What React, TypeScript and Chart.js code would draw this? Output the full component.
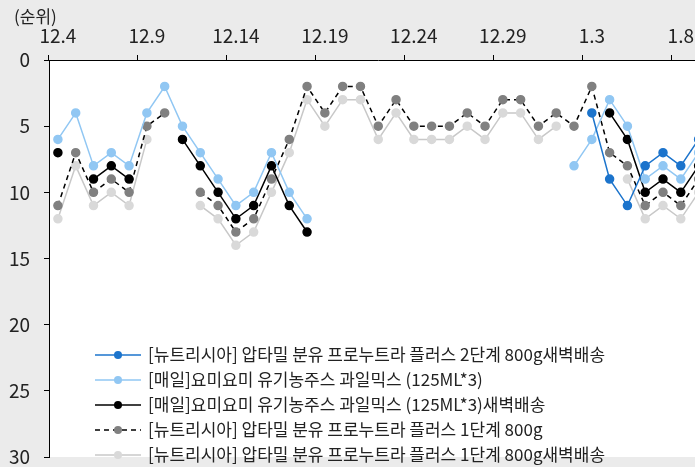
import React, { useEffect, useRef } from 'react';
import { Chart, registerables } from 'chart.js';

Chart.register(...registerables);

const categories = [
  '12.4', '12.5', '12.6', '12.7', '12.8', '12.9', '12.10', '12.11', '12.12', '12.13',
  '12.14', '12.15', '12.16', '12.17', '12.18', '12.19', '12.20', '12.21', '12.22', '12.23',
  '12.24', '12.25', '12.26', '12.27', '12.28', '12.29', '12.30', '12.31', '1.1', '1.2',
  '1.3', '1.4', '1.5', '1.6', '1.7', '1.8', '1.9',
];

const seriesNames = [
  '[뉴트리시아] 압타밀 분유 프로누트라 플러스 2단계 800g새벽배송',
  '[매일]요미요미 유기농주스 과일믹스 (125ML*3)',
  '[매일]요미요미 유기농주스 과일믹스 (125ML*3)새벽배송',
  '[뉴트리시아] 압타밀 분유 프로누트라 플러스 1단계 800g',
  '[뉴트리시아] 압타밀 분유 프로누트라 플러스 1단계 800g새벽배송',
];

const N = null;

const aptamil2Dawn = [
  N, N, N, N, N, N, N, N, N, N,
  N, N, N, N, N, N, N, N, N, N,
  N, N, N, N, N, N, N, N, N, N,
  4, 9, 11, 8, 7, 8, 6,
];

const yomiJuice = [
  6, 4, 8, 7, 8, 4, 2, 5, 7, 9,
  11, 10, 7, 10, 12, N, N, N, N, N,
  N, N, N, N, N, N, N, N, N, 8,
  6, 3, 5, 9, 8, 9, 7,
];

const yomiJuiceDawn = [
  7, N, 9, 8, 9, N, N, 6, 8, 10,
  12, 11, 8, 11, 13, N, N, N, N, N,
  N, N, N, N, N, N, N, N, N, N,
  N, 4, 6, 10, 9, 10, 8,
];

const aptamil1 = [
  11, 7, 10, 9, 10, 5, 4, N, 10, 11,
  13, 12, 9, 6, 2, 4, 2, 2, 5, 3,
  5, 5, 5, 4, 5, 3, 3, 5, 4, 5,
  2, 7, 8, 11, 10, 11, 9,
];

const aptamil1Dawn = [
  12, 8, 11, 10, 11, 6, N, N, 11, 12,
  14, 13, 10, 7, 3, 5, 3, 3, 6, 4,
  6, 6, 6, 5, 6, 4, 4, 6, 5, N,
  N, N, 9, 12, 11, 12, 10,
];

const yTicks = [0, 5, 10, 15, 20, 25, 30];
const unitTitle = '(순위)';

const FONT = "'Noto Sans CJK KR', 'Noto Sans', sans-serif";

const bgPlugin = {
  id: 'bgPlugin',
  beforeDraw(chart: any) {
    const { ctx, chartArea } = chart;
    ctx.save();
    ctx.fillStyle = '#ebebeb';
    ctx.fillRect(0, 0, chart.width, chart.height);
    ctx.fillStyle = '#ffffff';
    ctx.fillRect(chartArea.left, chartArea.top, chartArea.right - chartArea.left, chartArea.bottom - chartArea.top);
    ctx.restore();
  },
  afterDraw(chart: any) {
    const { ctx } = chart;
    ctx.save();
    ctx.fillStyle = '#222';
    ctx.font = `17px ${FONT}`;
    ctx.textAlign = 'left';
    ctx.textBaseline = 'middle';
    ctx.fillText(unitTitle, 14, 17);

    chart.data.datasets.forEach((ds: any, i: number) => {
      const y = 355 + i * 25;
      ctx.beginPath();
      ctx.setLineDash(ds.borderDash || []);
      ctx.strokeStyle = ds.borderColor;
      ctx.lineWidth = ds.borderWidth;
      ctx.moveTo(95, y);
      ctx.lineTo(141, y);
      ctx.stroke();
      ctx.setLineDash([]);
      ctx.beginPath();
      ctx.fillStyle = ds.pointBackgroundColor;
      ctx.arc(118, y, 4, 0, Math.PI * 2);
      ctx.fill();
      ctx.fillStyle = '#222';
      ctx.font = `17px ${FONT}`;
      ctx.textBaseline = 'middle';
      ctx.fillText(ds.label, 148, y);
    });
    ctx.restore();
  },
};

export default function App() {
  const ref = useRef<HTMLCanvasElement | null>(null);

  useEffect(() => {
    if (!ref.current) return;
    const mk = (label: string, data: any[], line: string, point: string, dash?: number[]) => ({
      label,
      data,
      borderColor: line,
      backgroundColor: point,
      pointBackgroundColor: point,
      pointBorderColor: point,
      pointRadius: 4,
      pointHoverRadius: 4,
      borderWidth: 1.5,
      borderDash: dash || [],
      spanGaps: false,
      tension: 0,
      fill: false,
    });
    const chart = new Chart(ref.current, {
      type: 'line',
      data: {
        labels: categories,
        datasets: [
          mk(seriesNames[0], aptamil2Dawn, '#1c74cc', '#1c74cc'),
          mk(seriesNames[1], yomiJuice, '#91c7f3', '#91c7f3'),
          mk(seriesNames[2], yomiJuiceDawn, '#000000', '#000000'),
          mk(seriesNames[3], aptamil1, '#000000', '#808080', [5, 4]),
          mk(seriesNames[4], aptamil1Dawn, '#c8c8c8', '#d9d9d9'),
        ] as any,
      },
      options: {
        responsive: false,
        animation: false,
        devicePixelRatio: 1,
        layout: { padding: { left: 0, right: 0, top: 0, bottom: 10 } },
        plugins: {
          legend: { display: false },
          tooltip: { enabled: false },
          title: { display: false },
        },
        scales: {
          x: {
            type: 'category',
            position: 'top',
            offset: true,
            afterFit: (s: any) => { s.height = 60; s.paddingLeft = 0; s.paddingRight = 0; },
            grid: {
              offset: true,
              drawOnChartArea: false,
              tickLength: 5,
              color: (c: any) => (c.index % 5 === 0 ? '#000' : 'rgba(0,0,0,0)'),
            },
            border: { display: true, color: '#000', width: 1 },
            ticks: {
              autoSkip: false,
              maxRotation: 0,
              minRotation: 0,
              padding: 8,
              color: '#222',
              font: { family: FONT, size: 19 },
              callback: (_v: any, i: number) => (i % 5 === 0 ? categories[i] : ''),
            },
          },
          y: {
            reverse: true,
            min: yTicks[0],
            max: yTicks[yTicks.length - 1],
            afterFit: (s: any) => { s.width = 49; s.paddingTop = 0; s.paddingBottom = 0; },
            afterBuildTicks: (s: any) => { s.ticks = yTicks.map((v) => ({ value: v })); },
            grid: { drawOnChartArea: false, tickLength: 5, color: '#000' },
            border: { display: true, color: '#000', width: 1 },
            ticks: {
              padding: 14,
              color: '#222',
              font: { family: FONT, size: 19 },
            },
          },
        },
      },
      plugins: [bgPlugin],
    });
    return () => chart.destroy();
  }, []);

  return (
    <div style={{ position: 'fixed', left: 0, top: 0, width: 695, height: 467, overflow: 'hidden', background: '#ebebeb' }}>
      <canvas ref={ref} width={713} height={467} style={{ display: 'block' }} />
    </div>
  );
}
